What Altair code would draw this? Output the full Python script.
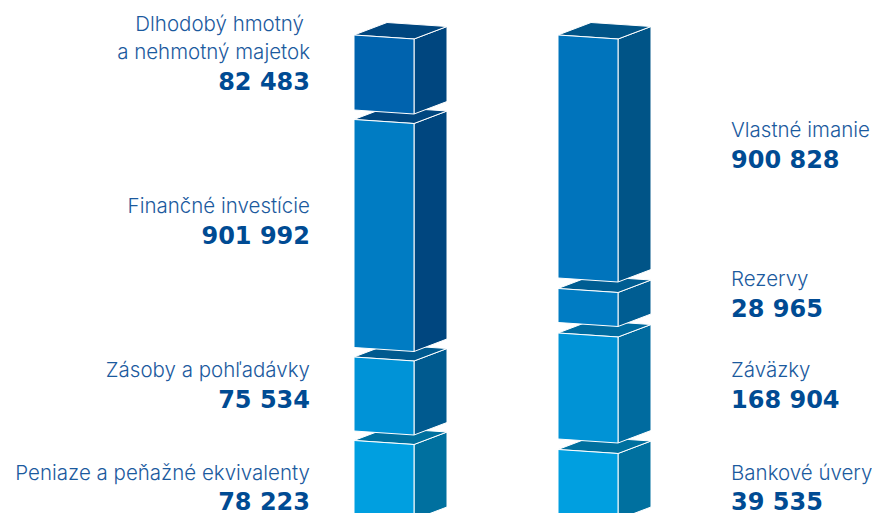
import altair as alt
import pandas as pd

# --- chart values -----------------------------------------------------------
left_names = ["Dlhodobý hmotný\na nehmotný majetok", "Finančné investície", "Zásoby a pohľadávky", "Peniaze a peňažné ekvivalenty"]
left_values = ["82 483", "901 992", "75 534", "78 223"]
right_names = ["Vlastné imanie", "Rezervy", "Záväzky", "Bankové úvery"]
right_values = ["900 828", "28 965", "168 904", "39 535"]
# block heights as drawn in the picture (they are not proportional to the values)
left_heights = [75, 228, 74, 75]
right_heights = [243, 34, 106, 66]

# --- styling and layout -----------------------------------------------------
left_colors = [("#0063AE", "#00467F"), ("#007CC3", "#00467F"), ("#0093D7", "#005A8F"), ("#009FE0", "#00709F")]
right_colors = [("#0074BC", "#005487"), ("#007CC3", "#005D92"), ("#0093D6", "#006B9F"), ("#009FE0", "#00709F")]
W, H = 864, 505
FRONT, DEPTH_X, RISE, SLOPE = 60, 33, 12.5, 4
TOP = 35
x_scale = alt.Scale(domain=[8, 8 + W], range=[0, W], nice=False, zero=False)
y_scale = alt.Scale(domain=[8, 8 + H], range=[0, H], nice=False, zero=False)


def block_faces(x0, y0, h, front, side):
    rows = []
    x1 = x0 + FRONT
    x2 = x1 + DEPTH_X
    bx = x0 + DEPTH_X
    yr = y0 + SLOPE
    # right side
    rows += [dict(face=1, fill=side, x=x1, y=yr, y2=yr + h),
             dict(face=1, fill=side, x=x2, y=yr - RISE, y2=yr + h - RISE)]
    # top
    rows += [dict(face=2, fill=side, x=x0, y=y0, y2=y0),
             dict(face=2, fill=side, x=bx, y=y0 - RISE, y2=y0 + SLOPE * DEPTH_X / FRONT),
             dict(face=2, fill=side, x=x1, y=y0 - RISE + SLOPE * (FRONT - DEPTH_X) / FRONT, y2=yr),
             dict(face=2, fill=side, x=x2, y=yr - RISE, y2=yr - RISE)]
    # front
    rows += [dict(face=3, fill=front, x=x0, y=y0, y2=y0 + h),
             dict(face=3, fill=front, x=x1, y=yr, y2=yr + h)]
    return rows


def column(x0, heights, colors, gap):
    layers, y = [], TOP
    blocks = []
    for h, (f, s) in zip(heights, colors):
        blocks.append(block_faces(x0, y, h, f, s))
        y += h + gap
    for rows in reversed(blocks):  # lower blocks are painted first
        df = pd.DataFrame(rows)
        for face in (1, 2, 3):
            sub = df[df.face == face]
            layers.append(
                alt.Chart(sub).mark_area(stroke="white", strokeWidth=1, clip=True, interpolate="linear").encode(
                    x=alt.X("x:Q", scale=x_scale, axis=None),
                    y=alt.Y("y:Q", scale=y_scale, axis=None),
                    y2="y2:Q",
                    fill=alt.Fill("fill:N", scale=None),
                )
            )
    return layers


def text_layer(xs, ys, texts, align, size, weight, font, color):
    df = pd.DataFrame({"x": xs, "y": ys, "t": texts})
    return alt.Chart(df).mark_text(align=align, baseline="alphabetic", fontSize=size, fontWeight=weight,
                                   font=font, color=color).encode(
        x=alt.X("x:Q", scale=x_scale, axis=None),
        y=alt.Y("y:Q", scale=y_scale, axis=None),
        text="t:N",
    )


NAME_FONT, NAME_SIZE, NAME_COLOR = "Inter", 20.5, "#1B5A9E"
NUM_FONT, NUM_SIZE, NUM_COLOR = "DejaVu Sans", 24, "#004B93"

left_lines = left_names[0].split("\n") + left_names[1:]
left_label_y = [31, 59, 213, 377, 480]
left_label_x = [304, 310, 310, 310, 310]
left_num_y = [90, 244, 408, 510]
right_label_y = [137, 286, 377, 480]
right_num_y = [168, 317, 408, 510]

layers = column(354, left_heights, left_colors, 9.5) + column(558, right_heights, right_colors, 10.5)
layers += [
    text_layer(left_label_x, left_label_y, left_lines, "right", NAME_SIZE, 300, NAME_FONT, NAME_COLOR),
    text_layer([310] * 4, left_num_y, left_values, "right", NUM_SIZE, "bold", NUM_FONT, NUM_COLOR),
    text_layer([731] * 4, right_label_y, right_names, "left", NAME_SIZE, 300, NAME_FONT, NAME_COLOR),
    text_layer([731] * 4, right_num_y, right_values, "left", NUM_SIZE, "bold", NUM_FONT, NUM_COLOR),
]

chart = alt.layer(*layers).properties(
    width=W, height=H, padding=0, background="white",
    autosize=alt.AutoSizeParams(type="none", contains="padding"),
).configure_view(stroke=None)
chart.save("out.html", embed_options={"renderer": "svg", "actions": False})
